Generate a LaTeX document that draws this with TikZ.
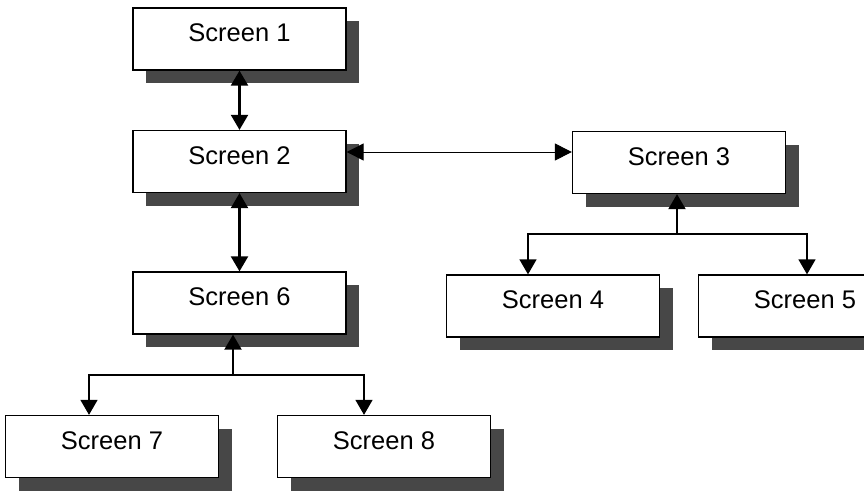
\documentclass[tikz,border=0pt]{standalone}
\usepackage{fontspec}
\setmainfont{Liberation Sans}
\usetikzlibrary{arrows.meta,shadows}
\begin{document}
\begin{tikzpicture}[x=1pt,y=-1pt,
  scr/.style={draw=black,line width=1.3pt,fill=white,minimum width=213pt,minimum height=62pt,
    inner sep=0pt,text height=18pt,text depth=13pt,font=\fontsize{25.5}{30}\selectfont,
    drop shadow={shadow xshift=13pt,shadow yshift=-13pt,fill=black!72,opacity=1}},
  biglink/.style={line width=2.2pt,{Triangle[length=15pt,width=17pt]}-{Triangle[length=15pt,width=17pt]}},
  thinlink/.style={line width=1pt,{Triangle[length=17pt,width=17pt]}-{Triangle[length=17pt,width=17pt]}},
  stem/.style={line width=2pt,-{Triangle[length=15pt,width=17pt]}},
  branch/.style={line width=1.4pt,-{Triangle[length=15pt,width=17pt]}}
]
\useasboundingbox (0,0) rectangle (864,491);
\clip (0,0) rectangle (864,491);
\fill[white] (0,0) rectangle (864,491);

\node[scr] (b1) at (239.5,39) {Screen 1};
\node[scr] (b2) at (239.5,161.5) {Screen 2};
\node[scr] (b3) at (679,162.5) {Screen 3};
\node[scr] (b4) at (553,306) {Screen 4};
\node[scr] (b5) at (805,306) {Screen 5};
\node[scr] (b6) at (239.5,303) {Screen 6};
\node[scr] (b7) at (112,446.5) {Screen 7};
\node[scr] (b8) at (384,446.5) {Screen 8};

\draw[biglink] (b1.south) -- (b2.north);
\draw[biglink] (b2.south) -- (b6.north);
\draw[thinlink] (b2.east |- 0,152) -- (b3.west |- 0,152);

\coordinate (j3) at (677,234);
\draw[stem] (j3) -- (b3.south -| j3);
\draw[branch] (j3) -| ([xshift=-25pt]b4.north);
\draw[branch] (j3) -| ([xshift=2pt]b5.north);

\coordinate (j6) at (233,375);
\draw[stem] (j6) -- (b6.south -| j6);
\draw[branch] (j6) -| ([xshift=-23pt]b7.north);
\draw[branch] (j6) -| ([xshift=-20pt]b8.north);
\end{tikzpicture}
\end{document}
